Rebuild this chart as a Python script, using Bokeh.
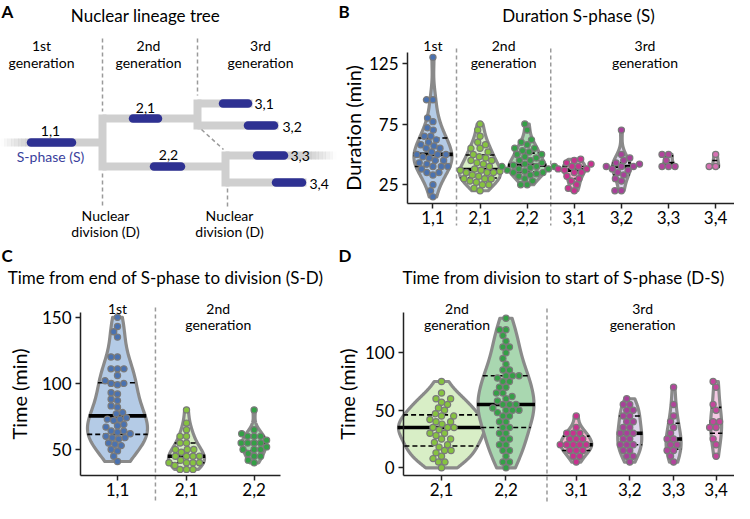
import numpy as np
from bokeh.plotting import figure
from bokeh.models import Range1d, FixedTicker, LinearAxis
from bokeh.embed import file_html
from bokeh.resources import INLINE
from bokeh.core.properties import value

FONT = "Lato"

# ---------------- data (minutes) ----------------
nuclei_B = ["1,1", "2,1", "2,2", "3,1", "3,2", "3,3", "3,4"]
dur_S_11 = [130, 95, 95, 80, 77, 72, 70, 65, 65, 62, 60, 58, 57, 55, 55, 52, 50, 50, 50, 48, 47, 45, 45, 43, 42, 40, 40, 40, 38, 35, 35, 33, 25, 20, 15]
dur_S_21 = [75, 70, 65, 60, 58, 55, 55, 52, 50, 48, 47, 45, 45, 43, 42, 40, 38, 37, 37, 36, 35, 35, 35, 33, 32, 30, 30, 30, 28, 27, 25, 25, 22, 20]
dur_S_22 = [75, 70, 62, 60, 58, 55, 55, 53, 52, 50, 50, 48, 47, 45, 45, 43, 42, 41, 40, 40, 40, 39, 38, 38, 37, 36, 35, 35, 34, 33, 32, 30, 28, 25, 25]
dur_S_31 = [46, 45, 43, 42, 40, 40, 38, 38, 37, 35, 35, 32, 30, 28, 25, 22, 20]
dur_S_32 = [70, 50, 47, 45, 43, 42, 40, 40, 40, 38, 37, 35, 33, 30, 28, 20, 20]
dur_S_33 = [50, 50, 45, 40, 40, 40]
dur_S_34 = [50, 40, 40]

nuclei_C = ["1,1", "2,1", "2,2"]
sd_11 = [150, 143, 139, 135, 120, 120, 111, 111, 111, 106, 102, 100, 100, 99, 93, 92, 88, 87, 83, 82, 78, 77, 74, 73, 73, 72, 69, 68, 67, 64, 64, 63, 62, 60, 59, 59, 58, 55, 54, 53, 50, 49, 45, 41]
sd_21 = [80, 70, 65, 60, 60, 55, 55, 50, 50, 50, 48, 45, 45, 45, 45, 42, 40, 40, 40, 40, 38, 35, 35, 35]
sd_22 = [80, 65, 62, 60, 60, 60, 57, 55, 55, 55, 55, 52, 50, 50, 50, 47, 45, 45, 42, 40]

nuclei_D = ["2,1", "2,2", "3,1", "3,2", "3,3", "3,4"]
ds_21 = [75, 65, 60, 60, 57, 55, 52, 50, 47, 45, 45, 42, 40, 40, 38, 35, 35, 35, 33, 30, 30, 28, 25, 25, 22, 20, 18, 15, 15, 13, 10, 8, 5, 5, 0]
ds_22 = [130, 120, 120, 115, 110, 105, 105, 100, 95, 90, 85, 85, 80, 80, 80, 78, 75, 75, 70, 70, 65, 65, 62, 60, 58, 55, 55, 55, 52, 50, 50, 50, 48, 45, 45, 40, 40, 35, 35, 30, 30, 25, 25, 20, 20, 15, 15, 10, 5, 5, 0]
ds_31 = [45, 35, 30, 30, 30, 25, 25, 25, 20, 20, 20, 20, 20, 15, 15, 15, 10, 10, 5]
ds_32 = [60, 55, 55, 50, 50, 45, 45, 40, 40, 35, 35, 30, 30, 30, 25, 25, 20, 20, 20, 15, 15, 10, 10, 5]
ds_33 = [70, 55, 45, 40, 35, 30, 25, 25, 20, 20, 15, 15, 10, 5]
ds_34 = [75, 70, 55, 50, 40, 40, 35, 35, 25, 20, 10]

ticks_B = [25, 75, 125]
ticks_C = [50, 100, 150]
ticks_D = [0, 50, 100]

# ---------------- colours ----------------
fill_col = {"1,1": "#b4cbe6", "2,1": "#d8eec6", "2,2": "#a9d7b0", "3,1": "#f5b3cf",
            "3,2": "#dcd4ea", "3,3": "#dcd4ea", "3,4": "#f3c9e3"}
dot_col = {"1,1": "#4a72b0", "2,1": "#86c340", "2,2": "#34a046", "3,1": "#c8318f",
           "3,2": "#a8409a", "3,3": "#b2449c", "3,4": "#d670b2"}
OUTLINE = "#8a8a8a"
DOTLINE = "#7a7a7a"
TREE = "#cfcfcf"
SBLUE = "#2e3192"
DASH = "#9a9a9a"

# ---------------- layout (page pixel coordinates, y downwards) ----------------
W0, W1, H0, H1 = 5, 739, 5, 508          # whole canvas in page coords
pos_B = [0, 1, 2, 3, 4, 5, 6]
pos_C = [0, 1, 1.98]
pos_D = [0, 1, 2.09, 2.92, 3.6, 4.26]
wid_B = [38, 41, 37, 22, 18, 10, 6]
wid_C = [60, 36, 24]
wid_D = [86, 56, 31, 24, 15, 11]
DOT_SIZE, DOT_GAP = 6.2, 6.5
# panel: data x-range, data y-range, frame box (left, right, top, bottom)
panels = {
    "B": ((-0.54, 6.4), (9.5, 134), (412, 739, 57, 208)),
    "C": ((-0.536, 2.362), (30.4, 153.6), (85, 285, 317, 480)),
    "D": ((-0.59, 4.545), (-6.7, 135), (408, 739, 317, 480)),
}

# lineage-tree schematic (panel A)
tree_segments = [
    (33, 147, 107, 147), (107, 119, 107, 175), (107, 123, 202, 123), (107, 171, 230, 171),
    (202, 104, 202, 134), (202, 108, 257, 108), (202, 130, 283, 130),
    (230, 156, 230, 191), (230, 160, 313, 160), (230, 187, 311, 187)]
sphase_bars = [(35.5, 76.5, 147), (137.5, 162.5, 123), (158.5, 185.5, 171), (227.5, 252.5, 108),
               (252.5, 278.5, 130), (261.5, 288.5, 160), (280.5, 306.5, 187)]
nucleus_labels = [("1,1", 55, 135, "center"), ("2,1", 150, 112, "center"), ("2,2", 173, 159, "center"),
                  ("3,1", 259, 108, "left"), ("3,2", 287, 131, "left"), ("3,3", 295, 160, "left"),
                  ("3,4", 314, 188, "left")]
dash_segments = [(107, 43, 107, 116), (107, 178, 107, 212), (202, 43, 202, 100),
                 (206, 134, 228, 154), (232, 193, 232, 212)]

p = figure(width=W1 - W0, height=H1 - H0, x_range=Range1d(W0, W1), y_range=Range1d(H1, H0),
           x_axis_type=None, y_axis_type=None, min_border=0, toolbar_location=None,
           output_backend="svg", outline_line_color=None, background_fill_color="white")
p.grid.visible = False

scales = {}
for key, ((x0, x1), (y0, y1), (L, R, T, B)) in panels.items():
    sx = (R - L) / (x1 - x0)
    sy = (B - T) / (y1 - y0)
    p.extra_x_ranges["x" + key] = Range1d(x0 - (L - W0) / sx, x0 + (W1 - L) / sx)
    p.extra_y_ranges["y" + key] = Range1d(y0 - (H1 - B) / sy, y0 + (B - H0) / sy)
    scales[key] = (sx, sy)


def txt(text, x, y, size="14px", align="center", bold=False, color="black", xr="default"):
    p.text(x=[x], y=[y], text=[text], text_align=align, text_baseline="middle",
           text_font=value(FONT), text_font_size=size, text_color=color,
           text_font_style="bold" if bold else "normal", x_range_name=xr)


def add_axes(key, pos, names, yticks, ylabel, ystand):
    (x0, x1), (y0, y1), _ = panels[key]
    xa = LinearAxis(x_range_name="x" + key, y_range_name="y" + key, fixed_location=y0,
                    bounds=(x0, x1), ticker=FixedTicker(ticks=pos),
                    major_label_overrides={k: v for k, v in zip(pos, names)})
    ya = LinearAxis(x_range_name="x" + key, y_range_name="y" + key, fixed_location=x0,
                    bounds=(y0, y1), ticker=FixedTicker(ticks=yticks), axis_label=ylabel)
    for ax in (xa, ya):
        ax.axis_line_width = 1.5
        ax.axis_line_color = "#222222"
        ax.major_tick_line_width = 1.5
        ax.major_tick_line_color = "#222222"
        ax.major_tick_in = 0
        ax.major_tick_out = 5
        ax.minor_tick_line_color = None
        ax.major_label_text_font = FONT
        ax.major_label_text_font_size = "17px"
        ax.major_label_text_color = "black"
        ax.axis_label_text_font = FONT
        ax.axis_label_text_font_size = "20px"
        ax.axis_label_text_font_style = "normal"
        ax.axis_label_text_color = "black"
    xa.major_label_standoff = 2
    ya.major_label_standoff = 4
    ya.axis_label_standoff = ystand
    p.add_layout(xa, "below")
    p.add_layout(ya, "left")


def kde(vals, n=150):
    v = np.asarray(vals, float)
    bw = v.std(ddof=1) * len(v) ** (-0.2)
    grid = np.linspace(v.min(), v.max(), n)
    dens = np.exp(-0.5 * ((grid[:, None] - v[None, :]) / bw) ** 2).sum(axis=1)
    return grid, dens / dens.max()


def swarm(vals, ypx, d):
    v = np.asarray(vals, float) * ypx
    order = np.argsort(v, kind="stable")
    placed = []
    out = np.zeros(len(v))
    for i in order:
        y = v[i]
        cands = [0.0]
        for (px, py) in placed:
            dy = abs(py - y)
            if dy < d:
                dx = np.sqrt(d * d - dy * dy)
                cands += [px + dx, px - dx]
        cands.sort(key=lambda c: (round(abs(c), 6), c))
        for c in cands:
            if all((c - px) ** 2 + (y - py) ** 2 >= d * d - 1e-6 for px, py in placed):
                out[i] = c
                placed.append((c, y))
                break
    return out


def violins(key, pos, names, data, widths, dotcol):
    sx, sy = scales[key]
    rn = dict(x_range_name="x" + key, y_range_name="y" + key)
    for x0, nm, vals, w in zip(pos, names, data, widths):
        grid, rel = kde(vals)
        hw = rel * (w / 2.0) / sx
        xs = np.concatenate([x0 + hw, (x0 - hw)[::-1]])
        ys = np.concatenate([grid, grid[::-1]])
        p.patch(xs, ys, fill_color=fill_col[nm], line_color=OUTLINE, line_width=3.2,
                line_join="round", **rn)
        q1, q2, q3 = np.percentile(vals, [25, 50, 75])
        for q, lw, dsh in [(q1, 1.6, "5 3"), (q3, 1.6, "5 3"), (q2, 3.6, "solid")]:
            h = np.interp(q, grid, hw) + 1.0 / sx
            p.segment(x0=[x0 - h], y0=[q], x1=[x0 + h], y1=[q], line_color="black",
                      line_width=lw, line_dash=dsh, **rn)
        offs = swarm(vals, sy, DOT_GAP)
        p.scatter(x0 + offs / sx, vals, size=DOT_SIZE, fill_color=dotcol[nm], line_color=DOTLINE,
                  line_width=1.2, **rn)


def vdash(key, x, top, bottom):
    p.segment(x0=[x], y0=[top], x1=[x], y1=[bottom], line_color=DASH, line_width=1.5,
              line_dash="4 3", x_range_name="x" + key)


# ================= Panel A =================
xs = np.linspace(5, 33, 9)
for i, a in enumerate(np.linspace(0.05, 0.95, 8)):
    p.segment(x0=[xs[i]], y0=[147], x1=[xs[i + 1] + 0.5], y1=[147], line_color=TREE,
              line_width=8, line_alpha=a)
xs = np.linspace(313, 341, 9)
for i, a in enumerate(np.linspace(0.95, 0.05, 8)):
    p.segment(x0=[xs[i] - 0.5], y0=[160], x1=[xs[i + 1]], y1=[160], line_color=TREE,
              line_width=8, line_alpha=a)
p.segment(x0=[s[0] for s in tree_segments], y0=[s[1] for s in tree_segments],
          x1=[s[2] for s in tree_segments], y1=[s[3] for s in tree_segments],
          line_color=TREE, line_width=8, line_cap="butt")
p.segment(x0=[s[0] for s in dash_segments], y0=[s[1] for s in dash_segments],
          x1=[s[2] for s in dash_segments], y1=[s[3] for s in dash_segments],
          line_color=DASH, line_width=1.5, line_dash="4 3")
p.segment(x0=[b[0] for b in sphase_bars], y0=[b[2] for b in sphase_bars],
          x1=[b[1] for b in sphase_bars], y1=[b[2] for b in sphase_bars],
          line_color=SBLUE, line_width=8.5, line_cap="round")
for t, x, y, al in nucleus_labels:
    txt(t, x, y, align=al)
txt("S-phase (S)", 55, 161, color="#3a419c")
for t, x, y in [("1st", 46, 50), ("generation", 46, 67), ("2nd", 153, 50), ("generation", 153, 67),
                ("3rd", 265, 50), ("generation", 265, 67), ("Nuclear", 110, 220), ("division (D)", 110, 236),
                ("Nuclear", 234, 220), ("division (D)", 234, 236)]:
    txt(t, x, y)
txt("Nuclear lineage tree", 150, 20, size="17px")
txt("A", 6, 16, size="17px", align="left", bold=True)

# ================= Panel B =================
vdash("B", 0.5, 53, 230)
vdash("B", 2.5, 53, 230)
add_axes("B", pos_B, nuclei_B, ticks_B, "Duration (min)", 1)
violins("B", pos_B, nuclei_B, [dur_S_11, dur_S_21, dur_S_22, dur_S_31, dur_S_32, dur_S_33, dur_S_34],
        wid_B, dot_col)
txt("B", 343, 16, size="17px", align="left", bold=True)
txt("Duration S-phase (S)", 583, 20, size="17px")
txt("1st", 0, 50, xr="xB")
txt("2nd", 1.5, 50, xr="xB")
txt("generation", 1.5, 67, xr="xB")
txt("3rd", 4.5, 50, xr="xB")
txt("generation", 4.5, 67, xr="xB")

# ================= Panel C =================
vdash("C", 0.55, 312, 508)
add_axes("C", pos_C, nuclei_C, ticks_C, "Time (min)", 8)
violins("C", pos_C, nuclei_C, [sd_11, sd_21, sd_22], wid_C, dot_col)
txt("C", 6, 260, size="17px", align="left", bold=True)
txt("Time from end of S-phase to division (S-D)", 170, 282, size="17px")
txt("1st", 0, 313, xr="xC")
txt("2nd", 1.46, 313, xr="xC")
txt("generation", 1.46, 329, xr="xC")

# ================= Panel D =================
vdash("D", 1.636, 313, 508)
add_axes("D", pos_D, nuclei_D, ticks_D, "Time (min)", 3)
violins("D", pos_D, nuclei_D, [ds_21, ds_22, ds_31, ds_32, ds_33, ds_34], wid_D,
        dict(dot_col, **{"3,4": "#c4459c"}))
txt("D", 343, 260, size="17px", align="left", bold=True)
txt("Time from division to start of S-phase (D-S)", 568, 282, size="17px")
txt("2nd", 0.24, 313, xr="xD")
txt("generation", 0.24, 329, xr="xD")
txt("3rd", 3.12, 313, xr="xD")
txt("generation", 3.12, 329, xr="xD")

open("out.html", "w").write(file_html(p, INLINE))
